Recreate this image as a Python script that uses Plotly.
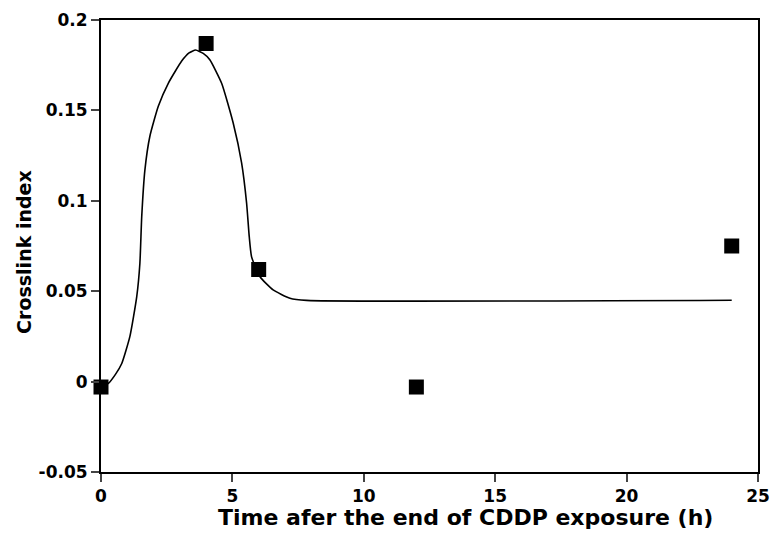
import plotly.graph_objects as go

# measured data points
time_h = [0, 4, 6, 12, 24]
crosslink = [-0.003, 0.187, 0.062, -0.003, 0.075]

# fitted curve
curve_x = [0, 0.28, 0.55, 0.79, 1.10, 1.36, 1.48, 1.55, 1.67, 1.86, 2.18, 2.56, 3.07, 3.35, 3.60,
           3.89, 4.14, 4.59, 5.03, 5.35, 5.54, 5.64, 5.73, 6.05, 6.55, 7.19, 7.82, 24]
curve_y = [-0.003, -0.001, 0.004, 0.010, 0.025, 0.047, 0.0655, 0.0913, 0.117, 0.1357, 0.1523,
           0.165, 0.1773, 0.1818, 0.1834, 0.1815, 0.178, 0.165, 0.143, 0.121, 0.0988, 0.0803,
           0.069, 0.058, 0.0507, 0.0461, 0.0449, 0.045]

x_ticks = [0, 5, 10, 15, 20, 25]
y_ticks = [-0.05, 0, 0.05, 0.1, 0.15, 0.2]
y_tick_labels = ["-0.05", "0", "0.05", "0.1", "0.15", "0.2"]

font = "DejaVu Sans, Arial, sans-serif"

fig = go.Figure()
fig.add_trace(go.Scatter(x=curve_x, y=curve_y, mode="lines",
                         line=dict(color="black", width=1.6, shape="spline", smoothing=0.5),
                         hoverinfo="skip", showlegend=False))
fig.add_trace(go.Scatter(x=time_h, y=crosslink, mode="markers",
                         marker=dict(symbol="square", size=15, color="black"),
                         showlegend=False, cliponaxis=False))

fig.update_layout(
    width=771, height=533, autosize=False,
    margin=dict(l=101, r=13, t=20, b=61, autoexpand=False),
    plot_bgcolor="white", paper_bgcolor="white",
    font=dict(family=font, color="black"),
    xaxis=dict(range=[0, 25], tickvals=x_ticks, ticks="outside", ticklen=8, tickwidth=1.5,
               showline=True, linecolor="black", linewidth=2, mirror=True,
               showgrid=False, zeroline=False, automargin=False,
               tickfont=dict(size=17, family=font, weight="bold")),
    yaxis=dict(range=[-0.05, 0.2], tickvals=y_ticks, ticktext=y_tick_labels,
               ticks="outside", ticklen=8, tickwidth=1.5,
               showline=True, linecolor="black", linewidth=2, mirror=True,
               showgrid=False, zeroline=False, automargin=False,
               tickfont=dict(size=17, family=font, weight="bold")),
    annotations=[
        dict(text="<b>Time afer the end of CDDP exposure (h)</b>", xref="paper", yref="paper",
             x=0.555, y=0, yshift=-45, xanchor="center", yanchor="middle", showarrow=False,
             font=dict(size=22, family=font)),
        dict(text="<b>Crosslink index</b>", xref="paper", yref="paper",
             x=0, xshift=-77, y=0.487, xanchor="center", yanchor="middle", showarrow=False,
             textangle=-90, font=dict(size=19, family=font)),
    ],
)

fig.write_html("out.html", config={"displayModeBar": False},
               post_script="document.body.style.margin='0';document.body.style.overflow='hidden';")
